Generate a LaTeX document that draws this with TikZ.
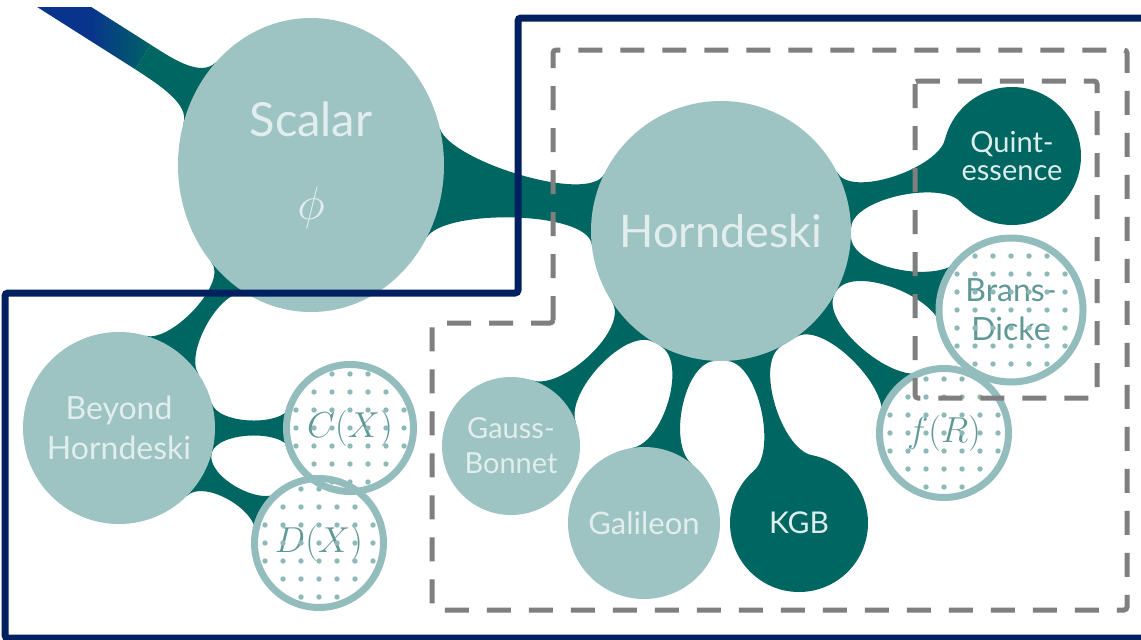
\documentclass[tikz,border=0pt]{standalone}
\usepackage{graphicx}
\usepackage{fontspec}
\setmainfont{Lato}
\usetikzlibrary{calc,shapes.geometric}
\definecolor{lightball}{HTML}{9DC3C3}
\definecolor{darkball}{HTML}{006661}
\definecolor{navy}{HTML}{002060}
\definecolor{dashgray}{HTML}{7F7F7F}
\definecolor{bandblue}{HTML}{08348C}
\definecolor{dotring}{HTML}{93BDBC}
\definecolor{dotfill}{HTML}{8DB9B8}
\definecolor{dottext}{HTML}{5F9896}
\definecolor{lighttext}{HTML}{E2EDED}
\definecolor{darktext}{HTML}{DCEEEC}
\pgfdeclarelayer{bg}
\pgfsetlayers{bg,main}
\pgfdeclarehorizontalshading{bandshade}{100bp}{color(0bp)=(bandblue); color(60bp)=(bandblue); color(76bp)=(darkball); color(100bp)=(darkball)}
\newcommand\bigmath[2]{{\fontsize{24.88}{30}\selectfont\scalebox{#1}{$#2$}}}
\tikzset{
  ball/.style={circle, inner sep=0pt, outer sep=0pt, align=center},
  lightb/.style={ball, fill=lightball, text=lighttext},
  darkb/.style={ball, fill=darkball, text=darktext},
  dotb/.style={ball, fill=white, text=dottext},
  helper/.style={circle, inner sep=0pt, outer sep=0pt, minimum size=29pt},
  ring/.style={draw=dotring, line width=7pt},
  dotdot/.style={fill=dotfill},
  connfill/.style={fill=darkball},
  bandfill/.style={shading=bandshade},
  frame/.style={draw=navy, line width=7pt, rounded corners=3pt},
  dashbox/.style={draw=dashgray, line width=5pt, dash pattern=on 24pt off 18pt, rounded corners=3pt},
}
% metaball-like connector between two round nodes
\newcommand\blob[9]{%
  \path[#1] (#2.center) -- (#2.#4)
    .. controls ($(#2.#4)!#8pt!90:(#2.center)$) and ($(#3.#6)!#9pt!-90:(#3.center)$) .. (#3.#6)
    -- (#3.center) -- (#3.#7)
    .. controls ($(#3.#7)!#9pt!90:(#3.center)$) and ($(#2.#5)!#8pt!-90:(#2.center)$) .. (#2.#5) -- cycle;}
\begin{document}
\begin{tikzpicture}[x=1pt,y=-1pt]
\useasboundingbox (0,0) rectangle (1141,640);
% balls
\node[lightb, ellipse, minimum width=266pt, minimum height=294pt, font=\fontsize{47}{83}\selectfont] (S) at (311,165) {Scalar\\\bigmath{1.9}{\phi}};
\node[lightb, minimum size=260pt, font=\fontsize{45}{54}\selectfont] (H) at (721,231) {Horndeski};
\node[darkb, minimum size=138pt, font=\fontsize{29}{28}\selectfont] (Q) at (1012,156) {Quint-\\essence};
\node[dotb, minimum size=144pt, font=\fontsize{32}{39}\selectfont] (BD) at (1011,310) {Brans-\\Dicke};
\node[dotb, minimum size=129pt] (FR) at (944,433) {\bigmath{1.45}{f(R)}};
\node[lightb, minimum size=192pt, font=\fontsize{32}{40}\selectfont] (BH) at (119,428) {Beyond\\Horndeski};
\node[dotb, minimum size=127pt] (CX) at (350,428) {\bigmath{1.45}{C(X)}};
\node[dotb, minimum size=129pt] (DX) at (319,543) {\bigmath{1.45}{D(X)}};
\node[lightb, minimum size=138pt, font=\fontsize{29}{35}\selectfont] (GB) at (511,446) {Gauss-\\Bonnet};
\node[lightb, minimum size=152pt, font=\fontsize{31}{37}\selectfont] (GA) at (644,523) {Galileon};
\node[darkb, minimum size=138pt, font=\fontsize{30}{36}\selectfont] (KGB) at (799,523) {KGB};
% invisible ends of the band that leaves the picture at the top left
\node[helper] (TL) at (-43,-61) {};
\node[helper] (M) at (143,57) {};
% dots and rings of the dotted balls
\foreach \n/\r in {CX/60, DX/61, BD/68, FR/61}{
  \begin{scope}
    \clip (\n) circle (\r pt);
    \foreach \i in {-4,...,4}{
      \foreach \j in {-4,...,4}{
        \fill[dotdot] ($(\n)+(\i*18,\j*18)$) circle (2.7pt);
      }
    }
  \end{scope}
}
\foreach \n/\r in {CX/63.5, DX/64.5, BD/72, FR/64.5}{
  \draw[ring] (\n) circle (\r pt);
}
% connectors
\begin{pgfonlayer}{bg}
\fill[white] (0,0) rectangle (1141,640);
\blob{connfill}{S}{H}{16}{328}{154}{186}{34}{34}
\blob{connfill}{S}{BH}{244}{224}{34}{74}{27}{27}
\blob{connfill}{H}{Q}{27}{1}{166}{222}{30}{30}
\blob{connfill}{H}{BD}{358}{332}{137}{193}{32}{32}
\blob{connfill}{H}{FR}{331}{305}{110}{166}{32}{32}
\blob{connfill}{H}{KGB}{298}{272}{79}{131}{32}{32}
\blob{connfill}{H}{GA}{268}{242}{51}{99}{32}{32}
\blob{connfill}{H}{GB}{239}{213}{20}{72}{32}{32}
\blob{connfill}{BH}{CX}{15}{345}{160}{200}{22}{22}
\blob{connfill}{BH}{DX}{345}{315}{128}{172}{24}{24}
\begin{scope}
  \clip (0,7) rectangle (1141,640);
  \blob{connfill}{S}{M}{162}{133}{237}{57}{20}{30}
  \path[bandfill] (TL.57) -- (TL.237) -- (M.237) -- (M.57) -- cycle;
\end{scope}
\end{pgfonlayer}
% frames
\draw[dashbox] (553,323) -- (553,50) -- (1127,50) -- (1127,610) -- (432,610) -- (432,323) -- cycle;
\draw[dashbox] (915,81) rectangle (1097,398);
\draw[frame] (1160,18) -- (518,18) -- (518,293) -- (5,293) -- (5,638) -- (1160,638);
\end{tikzpicture}
\end{document}
